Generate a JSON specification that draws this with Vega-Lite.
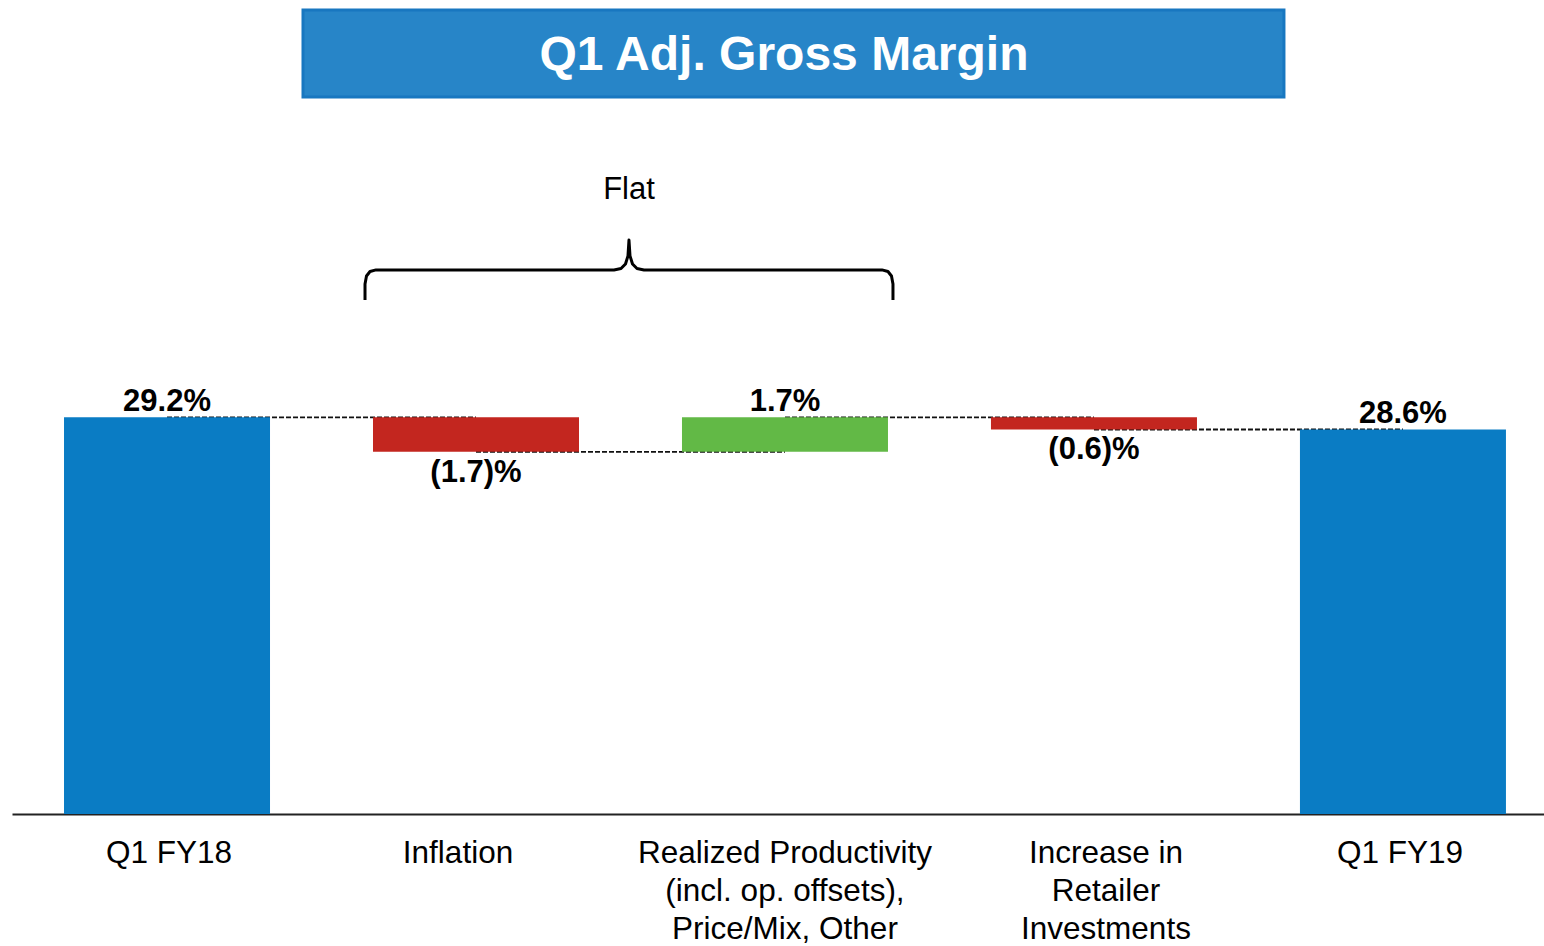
{
  "$schema": "https://vega.github.io/schema/vega-lite/v6.json",
  "width": 1532,
  "height": 814,
  "autosize": {"type": "none"},
  "padding": {"left": 12, "top": 0, "right": 0, "bottom": 132},
  "background": "white",
  "config": {
    "view": {"stroke": null},
    "font": "Liberation Sans",
    "text": {"font": "Liberation Sans"}
  },
  "datasets": {
    "bars": [
      {"idx": 0, "lab": "Q1 FY18", "lo": 0, "hi": 29.2, "kind": "total", "txt": "29.2%", "side": "above", "ty": 29.2},
      {"idx": 1, "lab": "Inflation", "lo": 27.5, "hi": 29.2, "kind": "neg", "txt": "(1.7)%", "side": "below", "ty": 27.5},
      {"idx": 2, "lab": "Realized Productivity|(incl. op. offsets),|Price/Mix, Other", "lo": 27.5, "hi": 29.2, "kind": "pos", "txt": "1.7%", "side": "above", "ty": 29.2},
      {"idx": 3, "lab": "Increase in|Retailer|Investments", "lo": 28.6, "hi": 29.2, "kind": "neg", "txt": "(0.6)%", "side": "below", "ty": 28.6},
      {"idx": 4, "lab": "Q1 FY19", "lo": 0, "hi": 28.6, "kind": "total", "txt": "28.6%", "side": "above", "ty": 28.6}
    ],
    "links": [
      {"idx": 0, "nxt": 1, "v": 29.2},
      {"idx": 1, "nxt": 2, "v": 27.5},
      {"idx": 2, "nxt": 3, "v": 29.2},
      {"idx": 3, "nxt": 4, "v": 28.6}
    ],
    "brace": [
      {"o": 1, "i": 0.6408, "v": 34.98},
      {"o": 2, "i": 0.6408, "v": 35.77},
      {"o": 3, "i": 0.6456, "v": 36.16},
      {"o": 4, "i": 0.6570, "v": 36.38},
      {"o": 5, "i": 0.6764, "v": 36.46},
      {"o": 6, "i": 1.4466, "v": 36.46},
      {"o": 7, "i": 1.4693, "v": 36.53},
      {"o": 8, "i": 1.4838, "v": 36.75},
      {"o": 9, "i": 1.4919, "v": 37.15},
      {"o": 10, "i": 1.4951, "v": 37.93},
      {"o": 11, "i": 1.4984, "v": 37.15},
      {"o": 12, "i": 1.5065, "v": 36.75},
      {"o": 13, "i": 1.5210, "v": 36.53},
      {"o": 14, "i": 1.5437, "v": 36.46},
      {"o": 15, "i": 2.3139, "v": 36.46},
      {"o": 16, "i": 2.3333, "v": 36.38},
      {"o": 17, "i": 2.3447, "v": 36.16},
      {"o": 18, "i": 2.3495, "v": 35.77},
      {"o": 19, "i": 2.3495, "v": 34.98}
    ],
    "banner": [
      {"i0": 0.4401, "i1": 3.6149, "v0": 44.98, "v1": 49.26}
    ],
    "notes": [
      {"i": 1.9968, "v": 47.0, "t": "Q1 Adj. Gross Margin", "kind": "title"},
      {"i": 1.4951, "v": 40.42, "t": "Flat", "kind": "flat"}
    ]
  },
  "encoding": {
    "x": {"type": "quantitative", "scale": {"domain": [-0.4855, 4.4403], "nice": false, "zero": false},
      "axis": {"labels": false, "ticks": false, "title": null, "grid": false, "domain": true, "domainColor": "#222222", "domainWidth": 2}},
    "y": {"type": "quantitative", "scale": {"domain": [9.658, 49.757], "clamp": true, "zero": false, "nice": false}, "axis": null}
  },
  "layer": [
    {
      "data": {"name": "links"},
      "mark": {"type": "rule", "color": "#111111", "strokeWidth": 1.8, "strokeDash": [5, 2]},
      "encoding": {
        "x": {"field": "idx", "type": "quantitative"},
        "x2": {"field": "nxt"},
        "y": {"field": "v", "type": "quantitative"}
      }
    },
    {
      "data": {"name": "bars"},
      "mark": {"type": "bar", "width": 206},
      "encoding": {
        "x": {"field": "idx", "type": "quantitative"},
        "y": {"field": "lo", "type": "quantitative"},
        "y2": {"field": "hi"},
        "color": {"field": "kind", "type": "nominal", "legend": null,
          "scale": {"domain": ["total", "neg", "pos"], "range": ["#0a7cc4", "#c3261f", "#62b946"]}}
      }
    },
    {
      "data": {"name": "bars"},
      "mark": {"type": "text", "fontSize": 31.5, "baseline": "top", "align": "center", "lineBreak": "|", "lineHeight": 38, "dy": 24, "color": "#000000",
        "dx": {"expr": "datum.lab === 'Inflation' ? -18 : (datum.idx === 3 ? 12 : (datum.idx === 0 ? 2 : (datum.idx === 4 ? -3 : 0)))"}},
      "encoding": {
        "x": {"field": "idx", "type": "quantitative"},
        "y": {"datum": 9.658},
        "text": {"field": "lab"}
      }
    },
    {
      "data": {"name": "bars"},
      "transform": [{"filter": "datum.side === 'above'"}],
      "mark": {"type": "text", "fontWeight": "bold", "fontSize": 31, "baseline": "alphabetic", "align": "center", "dy": -6, "color": "#000000"},
      "encoding": {
        "x": {"field": "idx", "type": "quantitative"},
        "y": {"field": "ty", "type": "quantitative"},
        "text": {"field": "txt"}
      }
    },
    {
      "data": {"name": "bars"},
      "transform": [{"filter": "datum.side === 'below'"}],
      "mark": {"type": "text", "fontWeight": "bold", "fontSize": 31, "baseline": "alphabetic", "align": "center", "dy": 30, "color": "#000000"},
      "encoding": {
        "x": {"field": "idx", "type": "quantitative"},
        "y": {"field": "ty", "type": "quantitative"},
        "text": {"field": "txt"}
      }
    },
    {
      "data": {"name": "banner"},
      "mark": {"type": "rect", "color": "#2785c8", "stroke": "#1877c0", "strokeWidth": 3},
      "encoding": {
        "x": {"field": "i0", "type": "quantitative"},
        "x2": {"field": "i1"},
        "y": {"field": "v0", "type": "quantitative"},
        "y2": {"field": "v1"}
      }
    },
    {
      "data": {"name": "brace"},
      "mark": {"type": "line", "color": "#000000", "strokeWidth": 3, "strokeJoin": "round"},
      "encoding": {
        "x": {"field": "i", "type": "quantitative"},
        "y": {"field": "v", "type": "quantitative"},
        "order": {"field": "o", "type": "quantitative"}
      }
    },
    {
      "data": {"name": "notes"},
      "transform": [{"filter": "datum.kind === 'title'"}],
      "mark": {"type": "text", "fontWeight": "bold", "fontSize": 48, "color": "#ffffff", "baseline": "middle", "align": "center"},
      "encoding": {
        "x": {"field": "i", "type": "quantitative"},
        "y": {"field": "v", "type": "quantitative"},
        "text": {"field": "t"}
      }
    },
    {
      "data": {"name": "notes"},
      "transform": [{"filter": "datum.kind === 'flat'"}],
      "mark": {"type": "text", "fontSize": 31, "color": "#000000", "baseline": "middle", "align": "center"},
      "encoding": {
        "x": {"field": "i", "type": "quantitative"},
        "y": {"field": "v", "type": "quantitative"},
        "text": {"field": "t"}
      }
    }
  ]
}
